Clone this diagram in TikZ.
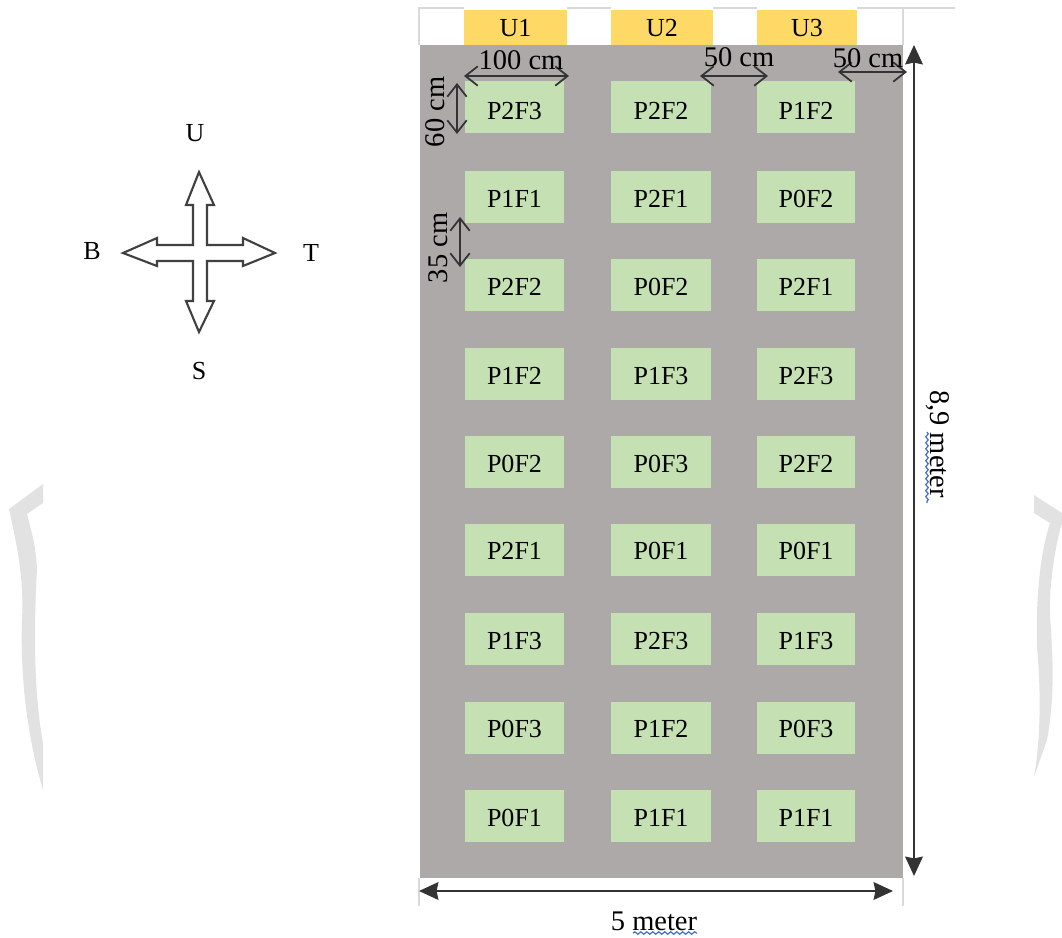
\documentclass[tikz,border=0pt]{standalone}
\usepackage{fontspec}
\setmainfont{Liberation Serif}
\usetikzlibrary{arrows.meta,decorations.pathmorphing}
\definecolor{fieldgray}{HTML}{AEA9A9}
\definecolor{unityellow}{HTML}{FFD966}
\definecolor{plotgreen}{HTML}{C5E0B3}
\definecolor{rulegray}{HTML}{D9D9D9}
\definecolor{wavegray}{HTML}{E2E2E2}
\definecolor{spellblue}{HTML}{4472C4}
\tikzset{
  txt/.style={inner sep=0pt, font=\fontsize{14.8}{17}\selectfont},
  dimtxt/.style={inner sep=0pt, font=\fontsize{16.2}{18}\selectfont},
  field/.style={fill=fieldgray, inner sep=0pt, minimum width=9.66cm, minimum height=16.66cm},
  unit/.style={txt, fill=unityellow, minimum height=0.7cm, text height=0.36cm, text depth=0pt},
  plot/.style={txt, fill=plotgreen, minimum width=2cm, minimum height=1.04cm, text height=0.41cm, text depth=0pt},
  plotc/.style={plot, minimum width=1.96cm},
  openarrow/.style={{Straight Barb[length=7pt,width=11pt]}-{Straight Barb[length=7pt,width=11pt]}, line width=1pt, black!80},
  bigarrow/.style={{Stealth[length=11pt,width=10pt,inset=1pt]}-{Stealth[length=11pt,width=10pt,inset=1pt]}, line width=1.3pt, black!80},
  cross/.style={draw=black!75, line width=1.2pt, fill=white, line join=miter},
  squiggle/.style={spellblue, line width=0.7pt, decorate, decoration={snake, amplitude=0.7pt, segment length=3.4pt}}
}
\begin{document}
\begin{tikzpicture}[x=0.02cm, y=-0.02cm]
    \useasboundingbox (0, 0) rectangle (1062, 937);
    % page border marks
    \fill[wavegray] (43, 484) -- (9, 509) .. controls (18, 550) and (24, 580) .. (22, 620) .. controls (20, 680) and (28, 740) .. (43, 790) -- (43, 743) .. controls (35, 700) and (33, 640) .. (37, 570) .. controls (36, 545) and (31, 530) .. (27, 514) -- (43, 503) -- cycle;
    \fill[wavegray] (1034, 495) -- (1062, 513) -- (1062, 523) .. controls (1054, 550) and (1049, 590) .. (1050, 613) .. controls (1052, 650) and (1056, 690) .. (1047, 740) -- (1034, 777) .. controls (1042, 730) and (1040, 680) .. (1037, 647) .. controls (1036, 610) and (1038, 560) .. (1050, 523) -- (1034, 513) -- cycle;
    % compass
    \path[cross] (199, 172) -- (214, 205) -- (207, 205) -- (207, 245) -- (243, 245) -- (243, 238) -- (275, 253) -- (243, 266) -- (243, 261) -- (207, 261) -- (207, 301) -- (214, 301) -- (199, 332) -- (186, 301) -- (193, 301) -- (193, 261) -- (157, 261) -- (157, 266) -- (123, 253) -- (157, 238) -- (157, 245) -- (193, 245) -- (193, 205) -- (186, 205) -- cycle;
    \node[txt] (up) at (195, 133) {U};
    \node[txt] (back) at (92, 251) {B};
    \node[txt] (right) at (311, 253) {T};
    \node[txt] (south) at (199, 371) {S};
    % thin table lines
    \draw[rulegray, line width=0.6pt] (419, 45) -- (419, 8) -- (464, 8);
    \draw[rulegray, line width=0.6pt] (567, 8) -- (611, 8);
    \draw[rulegray, line width=0.6pt] (713, 8) -- (757, 8);
    \draw[rulegray, line width=0.6pt] (857, 8) -- (955, 8);
    \draw[rulegray, line width=0.6pt] (903, 8) -- (903, 45);
    \draw[rulegray, line width=0.6pt] (419, 878) -- (419, 906);
    \draw[rulegray, line width=0.6pt] (903, 878) -- (903, 906);
    % field and units
    \node[field] (land) at (661.5, 461.5) {};
    \node[unit, minimum width=2.06cm] (u1) at (515.5, 27.5) {U1};
    \node[unit, minimum width=2.04cm] (u2) at (662, 27.5) {U2};
    \node[unit, minimum width=2cm] (u3) at (807, 27.5) {U3};
    % plots
    \node[plot, text height=0.5cm] (a1) at (514.5, 107) {P2F3};
    \node[plot] (a2) at (514.5, 197) {P1F1};
    \node[plot] (a3) at (514.5, 285) {P2F2};
    \node[plot] (a4) at (514.5, 374) {P1F2};
    \node[plot] (a5) at (514.5, 462) {P0F2};
    \node[plot] (a6) at (514.5, 549.5) {P2F1};
    \node[plot] (a7) at (514.5, 639) {P1F3};
    \node[plot] (a8) at (514.5, 727.5) {P0F3};
    \node[plot] (a9) at (514.5, 816) {P0F1};
    \node[plot, text height=0.5cm] (b1) at (661, 107) {P2F2};
    \node[plot] (b2) at (661, 197) {P2F1};
    \node[plot] (b3) at (661, 285) {P0F2};
    \node[plot] (b4) at (661, 374) {P1F3};
    \node[plot] (b5) at (661, 462) {P0F3};
    \node[plot] (b6) at (661, 549.5) {P0F1};
    \node[plot] (b7) at (661, 639) {P2F3};
    \node[plot] (b8) at (661, 727.5) {P1F2};
    \node[plot] (b9) at (661, 816) {P1F1};
    \node[plotc, text height=0.5cm] (c1) at (806, 107) {P1F2};
    \node[plotc] (c2) at (806, 197) {P0F2};
    \node[plotc] (c3) at (806, 285) {P2F1};
    \node[plotc] (c4) at (806, 374) {P2F3};
    \node[plotc] (c5) at (806, 462) {P2F2};
    \node[plotc] (c6) at (806, 549.5) {P0F1};
    \node[plotc] (c7) at (806, 639) {P1F3};
    \node[plotc] (c8) at (806, 727.5) {P0F3};
    \node[plotc] (c9) at (806, 816) {P1F1};
    % sizes
    \coordinate (w1) at (464, 76);
    \coordinate (w2) at (569, 76);
    \coordinate (g1) at (700, 76);
    \coordinate (g2) at (768, 76);
    \coordinate (m1) at (838, 72);
    \coordinate (m2) at (907, 72);
    \coordinate (h1) at (457, 83);
    \coordinate (h2) at (457, 134);
    \coordinate (r1) at (460, 217);
    \coordinate (r2) at (460, 267);
    \coordinate (t1) at (914, 45);
    \coordinate (t2) at (914, 876);
    \coordinate (l1) at (419, 891);
    \coordinate (l2) at (893, 891);
    \draw[openarrow] (w1) -- (w2);
    \draw[openarrow] (g1) -- (g2);
    \draw[openarrow] (m1) -- (m2);
    \draw[openarrow] (h1) -- (h2);
    \draw[openarrow] (r1) -- (r2);
    \draw[bigarrow] (t1) -- (t2);
    \draw[bigarrow] (l1) -- (l2);
    \node[dimtxt] (wtxt) at (521, 60) {100 cm};
    \node[dimtxt] (gtxt) at (739, 57) {50 cm};
    \node[dimtxt] (mtxt) at (868, 58) {50 cm};
    \node[dimtxt, rotate=90] (htxt) at (435, 112) {60 cm};
    \node[dimtxt, rotate=90] (rtxt) at (438, 248) {35 cm};
    \node[dimtxt, rotate=-90] (ttxt) at (938, 444) {8,9 meter};
    \node[dimtxt] (ltxt) at (654, 921) {5 meter};
    % spelling marks
    \draw[squiggle] (633, 933) -- (697, 933);
    \draw[squiggle] (927, 432) -- (927, 503);
\end{tikzpicture}
\end{document}
